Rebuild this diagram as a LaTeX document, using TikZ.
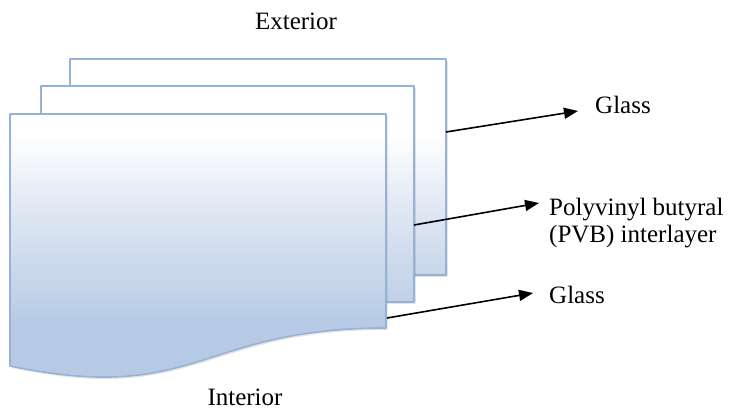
\documentclass[tikz,border=0pt]{standalone}
\usepackage{fontspec}
\setmainfont{Liberation Serif}
\usetikzlibrary{arrows.meta}

\definecolor{sheetline}{RGB}{149,179,215}
\definecolor{sheetbottom}{RGB}{182,202,229}
\definecolor{sheetmid}{RGB}{222,230,242}

% one gradient shared by all three sheets (white at the top, light blue below)
\pgfdeclareverticalshading{sheetshade}{100bp}{%
  color(0bp)=(sheetbottom); color(32bp)=(sheetbottom);
  color(50bp)=(sheetmid); color(63bp)=(white); color(100bp)=(white)}

\tikzset{
  sheetedge/.style={draw=sheetline, line width=1.6pt, line join=round},
  sheetshadow/.style={fill=black, opacity=0.10, shift={(1.5,2)}},
  label/.style={inner sep=0pt, anchor=base west, font=\fontsize{25}{27}\selectfont},
  caption/.style={inner sep=0pt, anchor=base, font=\fontsize{25}{27}\selectfont},
  pointer/.style={line width=1.6pt, -{Triangle[length=14pt,width=11pt]}}
}

\begin{document}
\begin{tikzpicture}[x=1pt,y=-1pt]
\useasboundingbox (0,0) rectangle (734,410);

% ---- back glass pane ----
\fill[sheetshadow] (70,59) rectangle (446,275);
\begin{scope}
  \clip (70,59) rectangle (446,275);
  \shade[shading=sheetshade] (0,59) rectangle (734,370);
\end{scope}
\draw[sheetedge] (70,59) rectangle (446,275);

% ---- PVB interlayer ----
\fill[sheetshadow] (41,86) rectangle (414,302);
\begin{scope}
  \clip (41,86) rectangle (414,302);
  \shade[shading=sheetshade] (0,59) rectangle (734,370);
\end{scope}
\draw[sheetedge] (41,86) rectangle (414,302);

% ---- front glass pane with wavy lower edge ----
\fill[sheetshadow] (10,114) -- (386,114) -- (386,328)
  .. controls (198,328) and (198,405) .. (10,366) -- cycle;
\begin{scope}
  \clip (10,114) -- (386,114) -- (386,328)
    .. controls (198,328) and (198,405) .. (10,366) -- cycle;
  \fill[sheetbottom] (0,300) rectangle (734,410);
  \shade[shading=sheetshade] (0,59) rectangle (734,370);
\end{scope}
\draw[sheetedge] (10,114) -- (386,114) -- (386,328)
  .. controls (198,328) and (198,405) .. (10,366) -- cycle;

% ---- anchor points on the pane edges and arrow tips ----
\coordinate (backedge)  at (446,132);
\coordinate (midedge)   at (414,225);
\coordinate (frontedge) at (387,318);
\coordinate (tipA) at (578,111);
\coordinate (tipB) at (539,203);
\coordinate (tipC) at (533,293);

% ---- labels ----
\node[caption] (exterior) at (296,29) {Exterior};
\node[caption] (interior) at (245,405) {Interior};
\node[label] (glassout) at (595,113) {Glass};
\node[label] (pvbA) at (549,215) {Polyvinyl butyral};
\node[label] (pvbB) at (549,242) {(PVB) interlayer};
\node[label] (glassin) at (549,303) {Glass};

% ---- pointers ----
\draw[pointer] (backedge) -- (tipA);
\draw[pointer] (midedge) -- (tipB);
\draw[pointer] (frontedge) -- (tipC);
\end{tikzpicture}
\end{document}
